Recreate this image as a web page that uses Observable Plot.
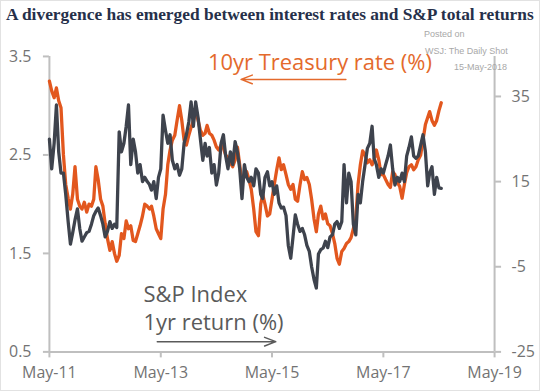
<!DOCTYPE html>
<html>
<head>
<meta charset="utf-8">
<script src="https://cdn.jsdelivr.net/npm/d3@7"></script>
<script src="https://cdn.jsdelivr.net/npm/@observablehq/plot@0.6"></script>
<style>
  html, body { margin: 0; padding: 0; background: #fff; }
  #wrap { position: relative; width: 540px; height: 391px; box-sizing: border-box; border: 1px solid #e2e2e2; overflow: hidden; background: #fff; }
  #title { position: absolute; left: 5px; top: 2px; white-space: nowrap; font-family: "Liberation Serif", "Times New Roman", serif; font-weight: bold; font-size: 17.4px; line-height: 22px; color: #26304a; }
  #chart { position: absolute; left: -1px; top: 25px; }
  .credit { position: absolute; font-family: "Liberation Sans", Arial, sans-serif; font-size: 9px; line-height: 11px; color: #a8a8a8; white-space: nowrap; z-index: 2; }
</style>
</head>
<body>
<div id="wrap">
  <div id="title">A divergence has emerged between interest rates and S&amp;P total returns</div>
  <div id="chart"></div>
  <div class="credit" style="left:423px; top:28px;">Posted on</div>
  <div class="credit" style="left:424px; top:45px;">WSJ: The Daily Shot</div>
  <div class="credit" style="left:453px; top:61px;">15-May-2018</div>
</div>
<script>
// ---- Data (semi-monthly: 1st and 16th of each month, May-2011 .. May-2018)
const startYear = 2011, startMonth = 4; // May 2011
const treasury = [
  3.25,3.15, 3.08,3.18, 3.05,2.98, 2.50,2.20, 2.06,1.95, 2.10,2.38, 2.05,1.98, 1.95,2.02,
  1.92,2.00, 1.98,2.05, 2.38,2.25, 2.05,1.98, 1.80,1.65, 1.53,1.62, 1.50,1.42, 1.48,1.70,
  1.65,1.83, 1.75,1.78, 1.63,1.62, 1.70,1.78, 1.88,2.00, 1.98,1.95, 1.98,1.88, 1.75,1.70,
  1.65,1.95, 2.10,2.40, 2.55,2.65, 2.70,2.85, 3.00,2.85, 2.65,2.60, 2.70,2.78, 2.85,2.95,
  2.85,2.75, 2.70,2.72, 2.80,2.72, 2.70,2.65, 2.58,2.55, 2.60,2.57, 2.50,2.47, 2.42,2.38,
  2.45,2.58, 2.40,2.20, 2.30,2.33, 2.25,2.15, 1.95,1.72, 1.68,2.00, 2.10,2.00, 1.88,1.90,
  2.05,2.20, 2.35,2.47, 2.35,2.40, 2.30,2.20, 2.15,2.20, 2.05,2.03, 2.20,2.33, 2.25,2.27,
  2.20,2.05, 1.85,1.72, 1.90,1.98, 1.85,1.90, 1.80,1.78, 1.70,1.60, 1.45,1.39, 1.52,1.55,
  1.60,1.62, 1.66,1.75, 1.85,2.20, 2.40,2.54, 2.50,2.42, 2.45,2.40, 2.45,2.55, 2.45,2.30,
  2.30,2.25, 2.20,2.17, 2.33,2.30, 2.22,2.18, 2.06,2.20, 2.32,2.38, 2.40,2.35, 2.38,2.45,
  2.50,2.65, 2.81,2.88, 2.94,2.85, 2.80,2.85, 2.95,3.03
];
const spReturn = [
  25,18, 24,33, 22,17, 17,12, 5.6,0.3, 3,6, 8.6,4, 1,2,
  3,3.3, 5,7, 8,8.8, 7,5, 2,3.3, 5.6,4, 5,4.2, 26.7,22,
  24,28, 33,19, 25,22, 17,19, 15,16, 15,14.3, 13,15, 11,16,
  18,30.6, 27,24, 26,20, 18,19, 16.5,18, 24,26, 29,33.7, 28,33.7,
  30,25, 20,24, 21,23, 17,19, 14.2,17, 24,26, 21,18, 22,19,
  24.4,22, 18,11, 19,16, 15,16, 14,18, 17,12, 11,16, 17.3,14,
  15,12, 14,10, 8.8,9, 7,0, -3,2, 7.2,5, 3.3,4, 2.5,0,
  -1.4,-5, -8,-10, -2,-1, -0.6,1, -0.5,2, 2.5,5, 5.6,4, 5.6,19,
  10,17, 15,5, 2.5,12, 10,15, 19,22.8, 24,28, 20.5,19, 16,18,
  17,19, 21,23.6, 18,14.2, 16,15, 17,15, 21,23, 25.5,21, 20.5,21,
  23.6,26, 22,14, 17,18.5, 12,16, 13.5,13.4
];
const leftTicks = [0.5, 1.5, 2.5, 3.5];
const rightTicks = [-25, -5, 15, 35];
const xTickYears = [2011, 2013, 2015, 2017, 2019];
const leftDomain = [0.5, 3.5];
const rightDomain = [-25, 44.4];
const xDomain = [new Date(Date.UTC(2011, 4, 1)), new Date(Date.UTC(2019, 4, 1))];

const annotations = [
  {label: "10yr Treasury rate (%)", date: new Date(Date.UTC(2014, 2, 7)), value: 3.434, color: "orange"},
  {label: "S&P Index", date: new Date(Date.UTC(2013, 0, 8)), value: 1.078, color: "gray"},
  {label: "1yr return (%)", date: new Date(Date.UTC(2013, 0, 8)), value: 0.794, color: "gray"}
];
const arrows = [
  {d1: new Date(Date.UTC(2016, 7, 28)), d2: new Date(Date.UTC(2014, 9, 10)), v: 3.267, color: "orange"},
  {d1: new Date(Date.UTC(2013, 3, 8)), d2: new Date(Date.UTC(2015, 4, 26)), v: 0.604, color: "gray"}
];

// ---- Styles
const ORANGE = "#e2571e", ORANGE_TEXT = "#e46a2c", GRAY = "#3e434d", GRAY_TEXT = "#5a5a5a", TICK_TEXT = "#737373", AXIS = "#bfbfbf";

// ---- Mapping of the right (S&P) axis onto the left scale
const K = (leftDomain[1] - leftDomain[0]) / (rightDomain[1] - rightDomain[0]);
const toL = v => leftDomain[0] + (v - rightDomain[0]) * K;
const fromL = l => (l - leftDomain[0]) / K + rightDomain[0];

const rows = treasury.map((t, i) => ({
  date: new Date(Date.UTC(startYear, startMonth + Math.floor(i / 2), i % 2 ? 16 : 1)),
  treasury: t,
  sp: spReturn[i]
}));

const chart = Plot.plot({
  width: 540,
  height: 366,
  marginTop: 30,
  marginBottom: 40,
  marginLeft: 49,
  marginRight: 45,
  style: {fontFamily: "'Open Sans', sans-serif", fontSize: "16px", background: "transparent", overflow: "visible"},
  x: {type: "utc", domain: xDomain},
  y: {domain: leftDomain},
  marks: [
    Plot.ruleX([xDomain[0]], {stroke: AXIS, strokeWidth: 2}),
    Plot.ruleX([xDomain[1]], {stroke: AXIS, strokeWidth: 2}),
    Plot.ruleY([leftDomain[0]], {stroke: AXIS, strokeWidth: 2}),
    Plot.axisY({ticks: leftTicks, tickFormat: d => d.toFixed(1), tickSize: 6, tickPadding: 12,
      stroke: AXIS, strokeWidth: 2, fill: TICK_TEXT, label: null}),
    Plot.axisY({anchor: "right", ticks: rightTicks.map(toL), tickFormat: d => String(Math.round(fromL(d))),
      tickSize: 6, tickPadding: 11, stroke: AXIS, strokeWidth: 2, fill: TICK_TEXT, label: null}),
    Plot.axisX({ticks: xTickYears.map(y => new Date(Date.UTC(y, 4, 1))),
      tickFormat: d => "May-" + String(d.getUTCFullYear()).slice(2),
      tickSize: 6, tickPadding: 9, stroke: AXIS, strokeWidth: 2, fill: TICK_TEXT, label: null}),
    Plot.line(rows, {x: "date", y: "treasury", stroke: ORANGE, strokeWidth: 3.3, strokeLinejoin: "round"}),
    Plot.line(rows, {x: "date", y: d => toL(d.sp), stroke: GRAY, strokeWidth: 3.3, strokeLinejoin: "round"}),
    Plot.text(annotations, {x: "date", y: "value", text: "label", textAnchor: "start", lineAnchor: "middle",
      fontSize: 22, fill: d => d.color === "orange" ? ORANGE_TEXT : GRAY_TEXT}),
    Plot.arrow(arrows, {x1: "d1", y1: "v", x2: "d2", y2: "v", stroke: d => d.color === "orange" ? ORANGE_TEXT : GRAY_TEXT,
      strokeWidth: 1.5, headLength: 12, headAngle: 42})
  ]
});
document.getElementById("chart").appendChild(chart);
</script>
</body>
</html>
